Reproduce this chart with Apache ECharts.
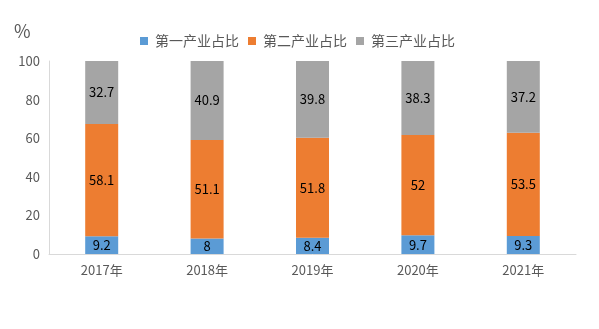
<!DOCTYPE html>
<html><head><meta charset="utf-8">
<script src="https://cdn.jsdelivr.net/npm/echarts@6/dist/echarts.min.js"></script>
<style>html,body{margin:0;padding:0;background:#fff}#c{width:599px;height:329px}</style>
</head><body><div id="c"></div>
<script>
const categories = ['2017年','2018年','2019年','2020年','2021年'];
const primary = [9.2, 8, 8.4, 9.7, 9.3];
const secondary = [58.1, 51.1, 51.8, 52, 53.5];
const tertiary = [32.7, 40.9, 39.8, 38.3, 37.2];
const seriesNames = ['第一产业占比','第二产业占比','第三产业占比'];
const colors = ['#5B9BD5','#ED7D31','#A5A5A5'];
const font = '"Noto Sans CJK SC", "DejaVu Sans", sans-serif';
const chart = echarts.init(document.getElementById('c'));
const mk = (name, data, color) => ({
  name, type: 'bar', stack: 'a', data, barWidth: 33,
  itemStyle: {color},
  label: {show: true, position: 'inside', color: '#000', fontSize: 13, fontFamily: font}
});
chart.setOption({
  animation: false,
  title: {text: '%', left: 9, top: 17, textStyle: {fontSize: 18, fontWeight: 'normal', color: '#595959', fontFamily: font}},
  legend: {top: 29, left: 135, itemWidth: 8, itemHeight: 8, itemGap: 9, icon: 'rect',
    textStyle: {fontSize: 14, color: '#595959', fontFamily: font, padding: [0,0,0,2]}},
  grid: {left: 49, right: 23, top: 61, bottom: 75},
  xAxis: {type: 'category', data: categories,
    axisLine: {lineStyle: {color: '#D9D9D9'}}, axisTick: {show: false},
    axisLabel: {color: '#595959', fontSize: 13, margin: 10, fontFamily: font}},
  yAxis: {type: 'value', min: 0, max: 100, interval: 20,
    axisLine: {show: true, lineStyle: {color: '#D9D9D9'}}, axisTick: {show: false}, splitLine: {show: false},
    axisLabel: {color: '#595959', fontSize: 13, margin: 9, fontFamily: font}},
  series: [mk(seriesNames[0], primary, colors[0]), mk(seriesNames[1], secondary, colors[1]), mk(seriesNames[2], tertiary, colors[2])]
});
</script></body></html>
